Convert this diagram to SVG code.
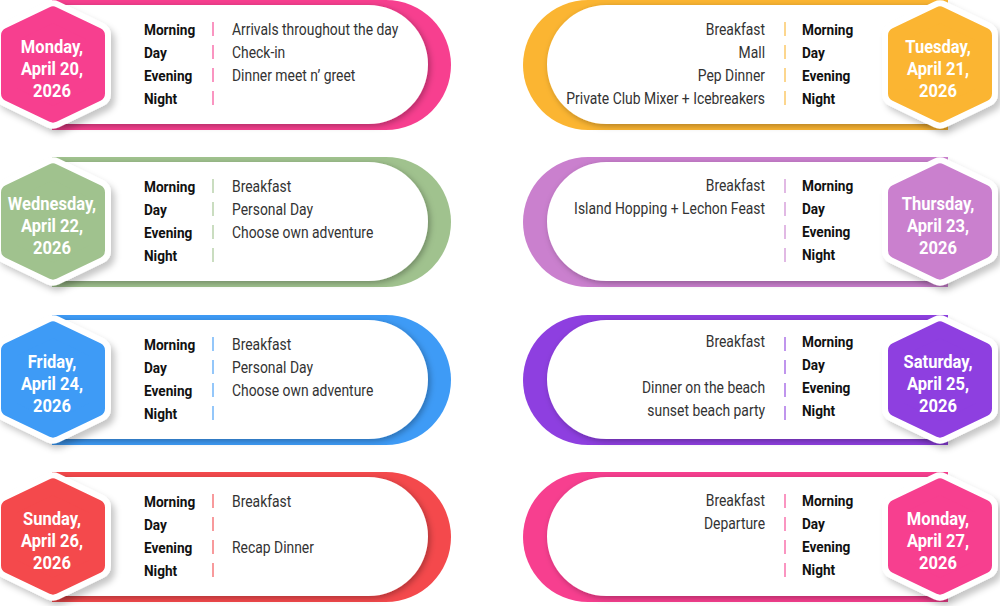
<svg xmlns="http://www.w3.org/2000/svg" xmlns:xlink="http://www.w3.org/1999/xlink" width="1000" height="606" viewBox="0 0 1000 606">
<style>
  .lb{font-family:Roboto,"Liberation Sans",sans-serif;font-weight:700;font-size:15.5px;fill:#111}
  .ac{font-family:Roboto,"Liberation Sans",sans-serif;font-weight:400;font-size:15.8px;fill:#333}
  .ac.r{text-anchor:end}
  .dt{font-family:Roboto,"Liberation Sans",sans-serif;font-weight:700;font-size:19px;fill:#fff;text-anchor:middle}
  .sep{stroke:currentColor;stroke-width:2;opacity:.55}
</style>
<defs>
  <filter id="shCard" x="-10%" y="-20%" width="130%" height="150%">
    <feDropShadow dx="2" dy="2" stdDeviation="3" flood-color="#000" flood-opacity="0.3"/>
  </filter>
  <filter id="shHex" x="-30%" y="-30%" width="170%" height="170%">
    <feDropShadow dx="4" dy="5" stdDeviation="3" flood-color="#000" flood-opacity="0.22"/>
  </filter>
  <path id="hexIn" d="M0,-50.1 L44,-29 L44,29 L0,50.1 L-44,29 L-44,-29 Z"/>
  <path id="outerL" d="M52,0 H386 A65,65 0 0 1 386,130 H52 Z"/>
  <path id="innerL" d="M52,5 H368.5 A59.5,59.5 0 0 1 368.5,124 H52 Z"/>
  <path id="outerR" d="M948,0 H588 A65,65 0 0 0 588,130 H948 Z"/>
  <path id="innerR" d="M948,5 H606.5 A59.5,59.5 0 0 0 606.5,124 H948 Z"/>
  <g id="sepsL">
    <line class="sep" x1="213" y1="22" x2="213" y2="36"/>
    <line class="sep" x1="213" y1="45" x2="213" y2="59"/>
    <line class="sep" x1="213" y1="68" x2="213" y2="82"/>
    <line class="sep" x1="213" y1="91" x2="213" y2="105"/>
  </g>
  <g id="sepsR">
    <line class="sep" x1="785" y1="22" x2="785" y2="36"/>
    <line class="sep" x1="785" y1="45" x2="785" y2="59"/>
    <line class="sep" x1="785" y1="68" x2="785" y2="82"/>
    <line class="sep" x1="785" y1="91" x2="785" y2="105"/>
  </g>
  <g id="cardL">
    <use xlink:href="#outerL" fill="currentColor"/>
    <use xlink:href="#innerL" fill="#fff" filter="url(#shCard)"/>
    <use xlink:href="#sepsL"/>
    <g transform="translate(53 64.5)">
      <use xlink:href="#hexIn" fill="#fff" stroke="#fff" stroke-width="28" stroke-linejoin="round" filter="url(#shHex)"/>
      <use xlink:href="#hexIn" fill="currentColor" stroke="currentColor" stroke-width="16" stroke-linejoin="round"/>
    </g>
  </g>
  <g id="cardR">
    <use xlink:href="#outerR" fill="currentColor"/>
    <use xlink:href="#innerR" fill="#fff" filter="url(#shCard)"/>
    <use xlink:href="#sepsR"/>
    <g transform="translate(940 64.5)">
      <use xlink:href="#hexIn" fill="#fff" stroke="#fff" stroke-width="28" stroke-linejoin="round" filter="url(#shHex)"/>
      <use xlink:href="#hexIn" fill="currentColor" stroke="currentColor" stroke-width="16" stroke-linejoin="round"/>
    </g>
  </g>
</defs>

<!-- LEFT COLUMN -->
<g id="day-mon-apr20" transform="translate(0 0)" style="color:#F73F8F">
  <use xlink:href="#cardL"/>
  <g transform="translate(52 0) scale(.87 1)">
    <text class="dt" x="0" y="53">Monday,</text>
    <text class="dt" x="0" y="75">April 20,</text>
    <text class="dt" x="0" y="97">2026</text>
  </g>
  <g transform="translate(144 0) scale(.88 1)">
    <text class="lb" x="0" y="35">Morning</text>
    <text class="lb" x="0" y="58">Day</text>
    <text class="lb" x="0" y="81">Evening</text>
    <text class="lb" x="0" y="104">Night</text>
    <text class="ac" x="100" y="35">Arrivals throughout the day</text>
    <text class="ac" x="100" y="58">Check-in</text>
    <text class="ac" x="100" y="81">Dinner meet n’ greet</text>
  </g>
</g>

<g id="day-wed-apr22" transform="translate(0 157)" style="color:#A0C28E">
  <use xlink:href="#cardL"/>
  <g transform="translate(52 0) scale(.87 1)">
    <text class="dt" x="0" y="53">Wednesday,</text>
    <text class="dt" x="0" y="75">April 22,</text>
    <text class="dt" x="0" y="97">2026</text>
  </g>
  <g transform="translate(144 0.5) scale(.88 1)">
    <text class="lb" x="0" y="35">Morning</text>
    <text class="lb" x="0" y="58">Day</text>
    <text class="lb" x="0" y="81">Evening</text>
    <text class="lb" x="0" y="104">Night</text>
    <text class="ac" x="100" y="35">Breakfast</text>
    <text class="ac" x="100" y="58">Personal Day</text>
    <text class="ac" x="100" y="81">Choose own adventure</text>
  </g>
</g>

<g id="day-fri-apr24" transform="translate(0 315)" style="color:#3E9BF6">
  <use xlink:href="#cardL"/>
  <g transform="translate(52 0) scale(.87 1)">
    <text class="dt" x="0" y="53">Friday,</text>
    <text class="dt" x="0" y="75">April 24,</text>
    <text class="dt" x="0" y="97">2026</text>
  </g>
  <g transform="translate(144 0) scale(.88 1)">
    <text class="lb" x="0" y="35">Morning</text>
    <text class="lb" x="0" y="58">Day</text>
    <text class="lb" x="0" y="81">Evening</text>
    <text class="lb" x="0" y="104">Night</text>
    <text class="ac" x="100" y="35">Breakfast</text>
    <text class="ac" x="100" y="58">Personal Day</text>
    <text class="ac" x="100" y="81">Choose own adventure</text>
  </g>
</g>

<g id="day-sun-apr26" transform="translate(0 472)" style="color:#F4494C">
  <use xlink:href="#cardL"/>
  <g transform="translate(52 0) scale(.87 1)">
    <text class="dt" x="0" y="53">Sunday,</text>
    <text class="dt" x="0" y="75">April 26,</text>
    <text class="dt" x="0" y="97">2026</text>
  </g>
  <g transform="translate(144 0) scale(.88 1)">
    <text class="lb" x="0" y="35">Morning</text>
    <text class="lb" x="0" y="58">Day</text>
    <text class="lb" x="0" y="81">Evening</text>
    <text class="lb" x="0" y="104">Night</text>
    <text class="ac" x="100" y="35">Breakfast</text>
    <text class="ac" x="100" y="81">Recap Dinner</text>
  </g>
</g>

<!-- RIGHT COLUMN -->
<g id="day-tue-apr21" transform="translate(0 0)" style="color:#FBB532">
  <use xlink:href="#cardR"/>
  <g transform="translate(938 0) scale(.87 1)">
    <text class="dt" x="0" y="53">Tuesday,</text>
    <text class="dt" x="0" y="75">April 21,</text>
    <text class="dt" x="0" y="97">2026</text>
  </g>
  <g transform="translate(802 0) scale(.88 1)">
    <text class="lb" x="0" y="35">Morning</text>
    <text class="lb" x="0" y="58">Day</text>
    <text class="lb" x="0" y="81">Evening</text>
    <text class="lb" x="0" y="104">Night</text>
    <text class="ac r" x="-42" y="35">Breakfast</text>
    <text class="ac r" x="-42" y="58">Mall</text>
    <text class="ac r" x="-42" y="81">Pep Dinner</text>
    <text class="ac r" x="-42" y="104">Private Club Mixer + Icebreakers</text>
  </g>
</g>

<g id="day-thu-apr23" transform="translate(0 157)" style="color:#CA80CE">
  <use xlink:href="#cardR"/>
  <g transform="translate(938 0) scale(.87 1)">
    <text class="dt" x="0" y="53">Thursday,</text>
    <text class="dt" x="0" y="75">April 23,</text>
    <text class="dt" x="0" y="97">2026</text>
  </g>
  <g transform="translate(802 -1) scale(.88 1)">
    <text class="lb" x="0" y="35">Morning</text>
    <text class="lb" x="0" y="58">Day</text>
    <text class="lb" x="0" y="81">Evening</text>
    <text class="lb" x="0" y="104">Night</text>
    <text class="ac r" x="-42" y="35">Breakfast</text>
    <text class="ac r" x="-42" y="58">Island Hopping + Lechon Feast</text>
  </g>
</g>

<g id="day-sat-apr25" transform="translate(0 315)" style="color:#8E3FE0">
  <use xlink:href="#cardR"/>
  <g transform="translate(938 0) scale(.87 1)">
    <text class="dt" x="0" y="53">Saturday,</text>
    <text class="dt" x="0" y="75">April 25,</text>
    <text class="dt" x="0" y="97">2026</text>
  </g>
  <g transform="translate(802 -3) scale(.88 1)">
    <text class="lb" x="0" y="35">Morning</text>
    <text class="lb" x="0" y="58">Day</text>
    <text class="lb" x="0" y="81">Evening</text>
    <text class="lb" x="0" y="104">Night</text>
    <text class="ac r" x="-42" y="35">Breakfast</text>
    <text class="ac r" x="-42" y="81">Dinner on the beach</text>
    <text class="ac r" x="-42" y="104">sunset beach party</text>
  </g>
</g>

<g id="day-mon-apr27" transform="translate(0 472)" style="color:#F73F8F">
  <use xlink:href="#cardR"/>
  <g transform="translate(938 0) scale(.87 1)">
    <text class="dt" x="0" y="53">Monday,</text>
    <text class="dt" x="0" y="75">April 27,</text>
    <text class="dt" x="0" y="97">2026</text>
  </g>
  <g transform="translate(802 -1) scale(.88 1)">
    <text class="lb" x="0" y="35">Morning</text>
    <text class="lb" x="0" y="58">Day</text>
    <text class="lb" x="0" y="81">Evening</text>
    <text class="lb" x="0" y="104">Night</text>
    <text class="ac r" x="-42" y="35">Breakfast</text>
    <text class="ac r" x="-42" y="58">Departure</text>
  </g>
</g>
</svg>
